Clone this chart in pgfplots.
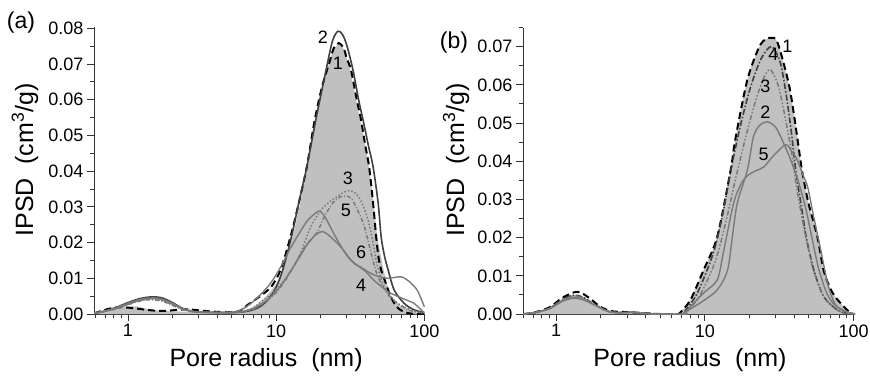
\documentclass[border=0pt]{standalone}
\usepackage{fontspec}
\setmainfont{Liberation Sans}
\usepackage{pgfplots}
\pgfplotsset{compat=1.18}

\definecolor{fillgray}{HTML}{C0C0C0}
\definecolor{dkgray}{HTML}{404040}
\definecolor{mdgray}{HTML}{7A7A7A}
\definecolor{axgray}{HTML}{333333}

\tikzset{lab/.style={font=\fontsize{18}{18}\selectfont, inner sep=0pt}}

\begin{document}
\begin{tikzpicture}
\useasboundingbox (0,0) rectangle (870pt,-380pt);

% ---------------- panel (a) ----------------
\begin{axis}[at={(94pt,-314pt)}, anchor=south west,
  scale only axis, xmode=log,
  xtick={1,10,100}, xticklabels={1,10,100},
  minor xtick={0.6,0.7,0.8,0.9,2,3,4,5,6,7,8,9,20,30,40,50,60,70,80,90},
  axis lines=left, axis line style={-, line width=1pt, draw=axgray},
  tick align=outside, major tick length=7pt, minor tick length=4pt,
  tick style={line width=0.9pt, draw=axgray},
  ymin=0, ytick distance=0.01, minor y tick num=1, scaled y ticks=false,
  yticklabel style={/pgf/number format/fixed, /pgf/number format/fixed zerofill,
    /pgf/number format/precision=2, /pgf/number format/assume math mode=true,
    font=\fontsize{18}{18}\selectfont},
  xticklabel style={font=\fontsize{18}{18}\selectfont},
  label style={font=\fontsize{25}{25}\selectfont},
  width=331pt, height=287.4pt, xmin=0.59, xmax=101, ymax=0.0805,
  xlabel={Pore radius \ (nm)}, ylabel={IPSD \ (cm\textsuperscript{3}/g)},
  xlabel style={at={(axis description cs:0.52,-0.16)}, anchor=center},
  ylabel style={at={(axis description cs:-0.2085,0.536)}, anchor=center}]
% filled reference
\addplot[fill=fillgray, draw=none, smooth] table {
x y
0.59 0.0002
0.7 0.0006
0.8 0.0012
0.9 0.0018
1.0 0.0021
1.15 0.0021
1.3 0.0016
1.5 0.0011
1.8 0.0008
2.2 0.0007
3 0.0005
4 0.0004
5 0.0004
6 0.0009
7 0.002
8 0.0038
9 0.006
10 0.0085
11 0.012
12.5 0.0195
14.2 0.029
16.1 0.040
18.2 0.053
20 0.062
22.7 0.0700
24.5 0.0740
26.3 0.0756
28 0.0748
30 0.0715
32 0.0670
35 0.059
37.4 0.0530
40 0.047
42.4 0.0405
45.5 0.031
48 0.022
51 0.016
54 0.011
57.6 0.0067
62 0.004
68 0.0025
78 0.0012
90 0.0004
100 0
} \closedcycle;
% curve 1 dashed
\addplot[black, line width=2pt, dash pattern=on 7pt off 4pt, smooth] table {
x y
0.59 0.0002
0.75 0.0015
0.9 0.0019
1.1 0.0016
1.37 0.0011
1.6 0.0009
1.84 0.0009
2.2 0.0012
2.5 0.0013
2.9 0.0011
3.2 0.0009
4 0.0006
5 0.0005
5.7 0.0009
6.4 0.0025
7.5 0.0045
9.2 0.0075
10.7 0.0123
12.5 0.0216
14.2 0.031
16.1 0.0412
18.2 0.0543
20.5 0.064
22.7 0.0700
24.5 0.0745
26.5 0.0759
28.5 0.0745
30 0.0715
32 0.0683
35 0.060
37.4 0.0543
40 0.047
42.4 0.0412
45.1 0.031
47.3 0.0216
49 0.016
51.1 0.0123
54 0.0095
57 0.0067
60 0.0045
62.6 0.003
67 0.0015
74 0.0005
85 0.0
100 0
};
% curve 2 solid dark
\addplot[dkgray, line width=1.6pt, smooth] table {
x y
0.59 0.0002
0.7 0.0008
0.85 0.002
1.0 0.0032
1.2 0.0043
1.45 0.0048
1.7 0.0045
2.0 0.0032
2.3 0.0017
2.7 0.0008
3.2 0.0005
5 0.0004
6 0.0006
7 0.0012
8 0.0024
9 0.0045
10 0.0075
11 0.012
12.5 0.0205
14.2 0.031
16.1 0.0412
18.5 0.0543
21.7 0.0683
24 0.0765
26.1 0.0792
28 0.0783
30 0.0752
33 0.0683
36 0.060
38.6 0.0543
42 0.047
45.1 0.0412
48.8 0.031
51.1 0.0216
54 0.016
57 0.0123
62.6 0.0067
73 0.003
85 0.0012
100 0.0004
};
% curve 3 dotted
\addplot[mdgray, line width=1.5pt, dotted, smooth] table {
x y
0.59 0.0002
0.8 0.0015
1.0 0.0028
1.2 0.0038
1.4 0.0042
1.7 0.0038
2.0 0.0025
2.4 0.0012
3 0.0006
5 0.0005
6 0.0008
7 0.0017
7.8 0.0032
9.5 0.006
11.2 0.0092
13 0.013
14.6 0.017
17.1 0.0244
20 0.029
22.3 0.031
26 0.033
29 0.0342
32 0.0345
35 0.0335
38 0.031
41.7 0.0263
45 0.020
47.3 0.015
50 0.011
53.6 0.0076
59.6 0.0048
66 0.003
73 0.002
85 0.0008
100 0.0002
};
% curve 5 dash-dot
\addplot[mdgray, line width=1.5pt, dash pattern=on 4pt off 2pt on 1pt off 2pt, smooth] table {
x y
0.59 0.0002
0.8 0.0013
1.0 0.0026
1.2 0.0036
1.4 0.004
1.7 0.0036
2.0 0.0024
2.4 0.0011
3 0.0005
5 0.0004
6 0.0006
7 0.0013
8 0.0027
10 0.006
12 0.0105
14 0.0155
16 0.0195
17.5 0.0212
19 0.023
21 0.027
24 0.031
27 0.0328
29 0.033
32 0.0325
35.5 0.029
39 0.025
42 0.020
45 0.015
48 0.011
52 0.008
58 0.005
66 0.003
80 0.001
100 0.0003
};
% curve 6 solid gray
\addplot[mdgray, line width=1.4pt, smooth] table {
x y
0.59 0.0002
0.8 0.0015
1.0 0.003
1.2 0.0041
1.45 0.0045
1.7 0.0042
2.0 0.003
2.3 0.0016
2.7 0.0008
3.2 0.0005
5 0.0005
6 0.0015
7.0 0.0035
8.3 0.0065
9.6 0.0098
11 0.014
12.5 0.0185
14.5 0.0230
16.3 0.0262
18.5 0.0283
19.7 0.0288
21.5 0.027
24.5 0.0225
27.5 0.0188
30.5 0.016
34 0.014
37 0.0132
41 0.012
45.5 0.011
51 0.0103
57 0.010
64 0.0103
70 0.0104
75 0.0098
81 0.0087
90 0.0065
100 0.002
};
% curve 4 solid gray
\addplot[mdgray, line width=1.4pt, smooth] table {
x y
0.59 0.0002
0.8 0.0013
1.0 0.0027
1.2 0.0038
1.45 0.0043
1.7 0.004
2.0 0.0028
2.3 0.0015
2.7 0.0007
3.2 0.0005
5 0.0004
6 0.0007
7 0.0015
8.3 0.0033
9.6 0.0055
11 0.0085
12.5 0.012
14.5 0.0162
16.3 0.0196
18.5 0.0222
20.6 0.0231
23 0.0218
27.3 0.0188
32 0.0151
37 0.013
40 0.012
45.5 0.0095
51 0.0078
57 0.0062
64 0.0052
70 0.0045
78 0.0037
85 0.003
95 0.0012
100 0.0003
};
\node[lab] at (axis cs:20.7,0.0776) {2};
\node[lab] at (axis cs:26.1,0.0703) {1};
\node[lab] at (axis cs:30.5,0.0381) {3};
\node[lab] at (axis cs:29.5,0.0291) {5};
\node[lab] at (axis cs:37.4,0.0174) {6};
\node[lab] at (axis cs:37.4,0.0081) {4};
\end{axis}

% ---------------- panel (b) ----------------
\begin{axis}[at={(523pt,-314pt)}, anchor=south west,
  scale only axis, xmode=log,
  xtick={1,10,100}, xticklabels={1,10,100},
  minor xtick={0.6,0.7,0.8,0.9,2,3,4,5,6,7,8,9,20,30,40,50,60,70,80,90},
  axis lines=left, axis line style={-, line width=1pt, draw=axgray},
  tick align=outside, major tick length=7pt, minor tick length=4pt,
  tick style={line width=0.9pt, draw=axgray},
  ymin=0, ytick distance=0.01, minor y tick num=1, scaled y ticks=false,
  yticklabel style={/pgf/number format/fixed, /pgf/number format/fixed zerofill,
    /pgf/number format/precision=2, /pgf/number format/assume math mode=true,
    font=\fontsize{18}{18}\selectfont},
  xticklabel style={font=\fontsize{18}{18}\selectfont},
  label style={font=\fontsize{25}{25}\selectfont},
  width=332pt, height=286.5pt, xmin=0.6, xmax=102, ymax=0.075,
  xlabel={Pore radius \ (nm)}, ylabel={IPSD \ (cm\textsuperscript{3}/g)},
  xlabel style={at={(axis description cs:0.503,-0.1606)}, anchor=center},
  ylabel style={at={(axis description cs:-0.2018,0.5375)}, anchor=center}]
\addplot[fill=fillgray, draw=none, smooth] table {
x y
0.6 0
0.7 0.0003
0.9 0.0015
1.1 0.0038
1.3 0.005
1.5 0.0045
1.8 0.0025
2.2 0.0008
2.6 0.0004
3.2 0.0005
4 0.0002
5 0
6.5 0
6.8 0.0003
8.0 0.0037
9.8 0.0115
12.1 0.0202
14.9 0.0377
16.0 0.0456
19.3 0.0613
23.6 0.0705
27.6 0.0723
30.8 0.071
36.5 0.0605
39.5 0.0527
42.6 0.0438
45.2 0.037
49.7 0.029
57 0.0202
62.7 0.0115
70 0.0065
78 0.0037
95 0.0003
102 0
} \closedcycle;
% curve 1 dashed
\addplot[black, line width=2pt, dash pattern=on 7pt off 4pt, smooth] table {
x y
0.6 0
0.7 0.0003
0.9 0.0017
1.1 0.0042
1.3 0.0056
1.45 0.0057
1.7 0.004
2.0 0.0018
2.4 0.0007
3 0.0005
4 0.0002
5 0
6.5 0
6.8 0.0003
8.0 0.0037
9.8 0.0115
12.1 0.0202
14.9 0.0377
16.0 0.0456
19.3 0.0613
23.6 0.0705
27.6 0.0723
30.8 0.071
36.5 0.0605
39.5 0.0527
42.6 0.0438
45.2 0.037
49.7 0.029
57 0.0202
62.7 0.0115
70 0.0065
78 0.0037
95 0.0003
102 0
};
% curve 4 dash-dot dark
\addplot[dkgray, line width=1.6pt, dash pattern=on 6pt off 2pt on 1.5pt off 2pt, smooth] table {
x y
0.6 0
0.7 0.0003
0.9 0.0015
1.1 0.0038
1.3 0.0049
1.5 0.0045
1.8 0.0026
2.2 0.0008
2.6 0.0004
3.2 0.0005
4 0.0002
5 0
7.0 0
7.2 0.0003
8.9 0.0055
11.4 0.016
13.3 0.027
15 0.038
17.5 0.050
20.5 0.060
24 0.067
28 0.0700
32 0.066
35 0.058
38 0.048
41 0.037
45 0.027
48 0.020
54 0.0115
63 0.0045
78 0.001
90 0.0002
102 0
};
% curve 3 dash-dot gray
\addplot[mdgray, line width=1.5pt, dash pattern=on 5pt off 2pt on 1.5pt off 2pt on 1.5pt off 2pt, smooth] table {
x y
0.6 0
0.7 0.0003
0.9 0.0014
1.1 0.0036
1.3 0.0047
1.5 0.0043
1.8 0.0025
2.2 0.0008
2.6 0.0004
3.2 0.0005
4 0.0002
5 0
7.3 0
7.5 0.0003
9.3 0.005
11.8 0.014
14 0.025
16 0.035
19 0.047
22 0.056
25 0.062
27.5 0.064
31 0.060
34 0.053
38 0.043
41 0.034
45 0.025
49 0.018
54 0.011
63 0.0045
78 0.001
90 0.0002
102 0
};
% curve 2 solid gray
\addplot[mdgray, line width=1.4pt, smooth] table {
x y
0.6 0
0.7 0.0003
0.9 0.0014
1.1 0.0035
1.3 0.0043
1.5 0.004
1.8 0.0025
2.2 0.0008
2.6 0.0003
3.2 0.0004
4 0.0001
5 0
7 0
7.2 0.0003
9.3 0.0029
12.1 0.0063
14.2 0.0115
15.3 0.0202
16.5 0.029
19.3 0.0377
21.2 0.0464
23.5 0.0495
26.4 0.0503
30 0.0488
34 0.0445
38 0.040
43 0.034
48 0.027
53 0.019
58 0.012
65 0.006
72 0.003
85 0.0008
100 0.0001
};
% curve 5 solid gray
\addplot[mdgray, line width=1.4pt, smooth] table {
x y
0.6 0
0.7 0.0003
0.9 0.0013
1.1 0.0033
1.3 0.0041
1.5 0.0038
1.8 0.0024
2.2 0.0008
2.6 0.0003
3.2 0.0004
4 0.0001
5 0
7.4 0
7.6 0.001
9.8 0.0055
12.1 0.0089
13.3 0.016
15.6 0.029
17.5 0.034
19.3 0.0362
22 0.0375
24.9 0.0385
29 0.0415
34.8 0.0443
38 0.0428
41.8 0.0403
46 0.036
49 0.0333
53.9 0.0254
60 0.0168
66.7 0.0081
72 0.004
78 0.0018
95 0.0003
102 0
};
\node[lab] at (axis cs:35.9,0.0700) {1};
\node[lab] at (axis cs:28.9,0.0679) {4};
\node[lab] at (axis cs:25.5,0.0595) {3};
\node[lab] at (axis cs:25.5,0.0529) {2};
\node[lab] at (axis cs:24.8,0.0417) {5};
\end{axis}

\node[font=\fontsize{23}{23}\selectfont, inner sep=0pt] at (21pt,-23pt) {(a)};
\node[font=\fontsize{23}{23}\selectfont, inner sep=0pt] at (454pt,-43pt) {(b)};
\end{tikzpicture}
\end{document}
